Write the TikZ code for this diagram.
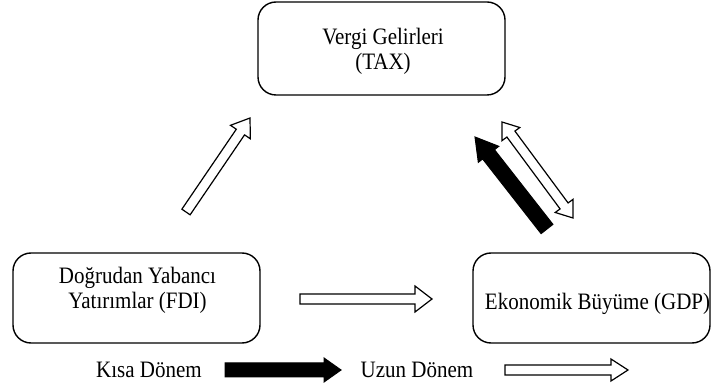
\documentclass[tikz,border=0pt]{standalone}
\usepackage{fontspec}
\setmainfont{Liberation Serif}
\usetikzlibrary{calc}
\tikzset{
  box/.style={draw, line width=1.4pt, rounded corners=18pt, inner sep=0pt},
  lbl/.style={font=\fontsize{21}{22.5}\selectfont, align=center, inner sep=0pt, yscale=1.12, transform shape},
  hollow/.style={draw, fill=white, line width=1.2pt, line join=miter},
  solid/.style={draw, fill=black, line width=1pt, line join=miter}
}
% single block arrow: style, from, to, half shaft, half head, head length
\newcommand\blockarr[6]{%
  \coordinate (hb) at ($(#3)!#6!(#2)$);
  \draw[#1] ($(#2)!#4!90:(#3)$) -- ($(hb)!#4!90:(#3)$) -- ($(hb)!#5!90:(#3)$) -- (#3)
     -- ($(hb)!#5!-90:(#3)$) -- ($(hb)!#4!-90:(#3)$) -- ($(#2)!#4!-90:(#3)$) -- cycle;}
% double block arrow
\newcommand\dblarr[6]{%
  \coordinate (hbA) at ($(#2)!#6!(#3)$);
  \coordinate (hbB) at ($(#3)!#6!(#2)$);
  \draw[#1] (#2) -- ($(hbA)!#5!90:(#3)$) -- ($(hbA)!#4!90:(#3)$) -- ($(hbB)!#4!90:(#3)$)
     -- ($(hbB)!#5!90:(#3)$) -- (#3) -- ($(hbB)!#5!-90:(#3)$) -- ($(hbB)!#4!-90:(#3)$)
     -- ($(hbA)!#4!-90:(#3)$) -- ($(hbA)!#5!-90:(#3)$) -- cycle;}
\begin{document}
\begin{tikzpicture}[x=1pt,y=-1pt]
\useasboundingbox (0,0) rectangle (713,387);
% boxes
\node[box, minimum width=247pt, minimum height=93pt] (tax) at (381.5,48.5) {};
\node[box, minimum width=247pt, minimum height=90pt] (fdi) at (136.5,298) {};
\node[box, minimum width=237pt, minimum height=90pt] (gdp) at (591.5,298) {};
% texts
\node[lbl] (taxt) at (383,51.5) {Vergi Gelirleri\\(TAX)};
\node[lbl] (fdit) at (137.5,290) {Doğrudan Yabancı\\Yatırımlar (FDI)};
\node[lbl] (gdpt) at (597.5,304) {Ekonomik Büyüme (GDP)};
\node[lbl] (kisa) at (149,369.5) {Kısa Dönem};
\node[lbl] (uzun) at (417,369.5) {Uzun Dönem};
% arrow end points
\coordinate (m1) at (300,299);
\coordinate (m2) at (432,299);
\coordinate (l1) at (186,212);
\coordinate (l2) at (250,118);
\coordinate (b1) at (547,229);
\coordinate (b2) at (475,137);
\coordinate (d1) at (502,122);
\coordinate (d2) at (573,218);
\coordinate (k1) at (225,370);
\coordinate (k2) at (341,370);
\coordinate (u1) at (505,370);
\coordinate (u2) at (628,370);
% arrows
\blockarr{hollow}{m1}{m2}{5pt}{13pt}{17pt}
\blockarr{hollow}{l1}{l2}{5pt}{12pt}{17pt}
\blockarr{solid}{b1}{b2}{7.5pt}{13pt}{22pt}
\dblarr{hollow}{d1}{d2}{5pt}{11pt}{15pt}
\blockarr{solid}{k1}{k2}{7pt}{12pt}{17pt}
\blockarr{hollow}{u1}{u2}{5pt}{11pt}{17pt}
\end{tikzpicture}
\end{document}
